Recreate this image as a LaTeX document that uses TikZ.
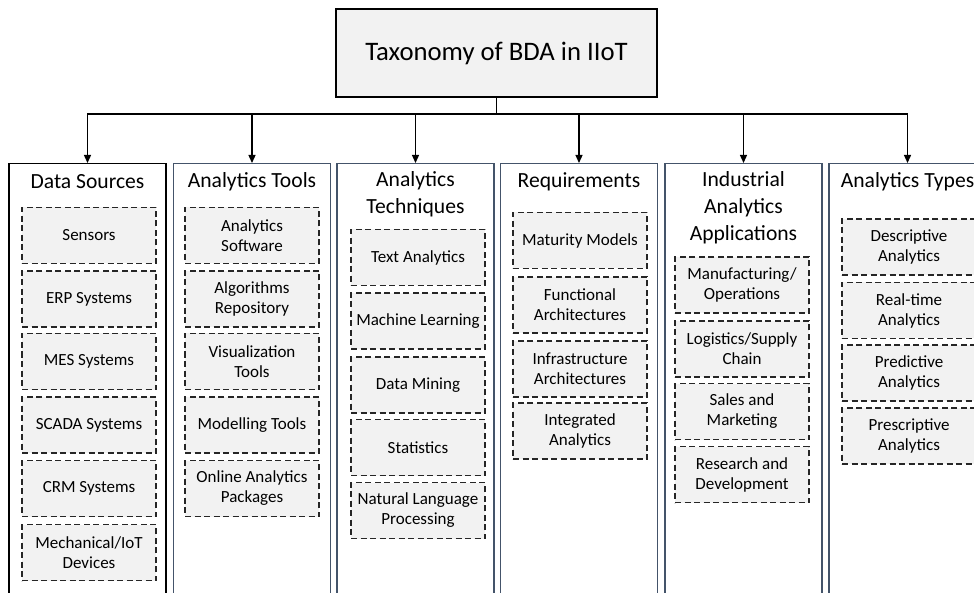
\documentclass[tikz,border=0pt]{standalone}
\usepackage{fontspec}
\setmainfont{Carlito}
\usetikzlibrary{arrows.meta}
\definecolor{boxgray}{HTML}{F2F2F2}
\definecolor{colborder}{HTML}{44546A}

\begin{document}
\begin{tikzpicture}
    [
        x=1pt, y=-1pt,
        rootbox/.style = {shape=rectangle, draw=black, line width=1.5pt, fill=boxgray,
            minimum width=321pt, minimum height=88pt,
            font=\fontsize{26.7}{32}\selectfont},
        colbox/.style = {shape=rectangle, draw=colborder, line width=1.5pt, fill=white,
            anchor=north, minimum width=157pt, minimum height=450pt},
        coltitle/.style = {align=center, inner sep=0pt,
            font=\fontsize{21.6}{27}\selectfont},
        leaf/.style = {shape=rectangle, draw=black!85, dash pattern=on 6pt off 3.5pt,
            line width=1.2pt, fill=boxgray, align=center,
            minimum width=134pt, minimum height=56pt,
            font=\fontsize{17}{20}\selectfont},
        feed/.style = {line width=1.3pt, -{Triangle[length=8pt,width=7pt]}}
    ]
    \useasboundingbox (0,0) rectangle (974,593);
    \clip (0,0) rectangle (974,593);

    \node[rootbox] (root) at (496.5,53) {Taxonomy of BDA in IIoT};
    \coordinate (bus) at (496.5,114);

    % columns
    \node[colbox, draw=black] (sources) at (87.5,163) {};
    \node[colbox] (tools) at (252,163) {};
    \node[colbox] (techniques) at (415.5,163) {};
    \node[colbox] (requirements) at (579,163) {};
    \node[colbox] (applications) at (743.5,163) {};
    \node[colbox] (types) at (907.5,163) {};

    \draw[line width=1.3pt] (root.south) -- (bus);
    \foreach \col in {sources,tools,techniques,requirements,applications,types}
        \draw[feed] (bus) -| (\col.north);

    % column titles
    \node[coltitle] (sourcesT) at (87.5,182) {Data Sources};
    \node[coltitle] (toolsT) at (252,182) {Analytics Tools};
    \node[coltitle] (techniquesT) at (415.5,194.5) {Analytics\\ Techniques};
    \node[coltitle] (requirementsT) at (579,182) {Requirements};
    \node[coltitle] (applicationsT) at (743.5,208) {Industrial\\ Analytics\\ Applications};
    \node[coltitle] (typesT) at (907.5,182) {Analytics Types};

    % data sources
    \node[leaf] (sensors) at (89,235.5) {Sensors};
    \node[leaf] (erp) at (89,299) {ERP Systems};
    \node[leaf] (mes) at (89,361.5) {MES Systems};
    \node[leaf] (scada) at (89,425) {SCADA Systems};
    \node[leaf] (crm) at (89,488.5) {CRM Systems};
    \node[leaf] (iot) at (89,552.5) {Mechanical/IoT\\ Devices};

    % analytics tools
    \node[leaf] (software) at (252,235.5) {Analytics\\ Software};
    \node[leaf] (algorithms) at (252,299) {Algorithms\\ Repository};
    \node[leaf] (visual) at (252,361.5) {Visualization\\ Tools};
    \node[leaf] (modelling) at (252,425) {Modelling Tools};
    \node[leaf] (online) at (252,488.5) {Online Analytics\\ Packages};

    % analytics techniques
    \node[leaf] (text) at (418,257.5) {Text Analytics};
    \node[leaf] (ml) at (418,321) {Machine Learning};
    \node[leaf] (mining) at (418,385) {Data Mining};
    \node[leaf] (stats) at (418,447.5) {Statistics};
    \node[leaf] (nlp) at (418,510.5) {Natural Language\\ Processing};

    % requirements
    \node[leaf] (maturity) at (580,240.5) {Maturity Models};
    \node[leaf] (functional) at (580,305) {Functional\\ Architectures};
    \node[leaf] (infra) at (580,369) {Infrastructure\\ Architectures};
    \node[leaf] (integrated) at (580,431) {Integrated\\ Analytics};

    % industrial analytics applications
    \node[leaf] (manufacturing) at (742,285) {Manufacturing/\\ Operations};
    \node[leaf] (logistics) at (742,349) {Logistics/Supply\\ Chain};
    \node[leaf] (sales) at (742,411.5) {Sales and\\ Marketing};
    \node[leaf] (research) at (742,474.5) {Research and\\ Development};

    % analytics types
    \node[leaf] (descriptive) at (909,247) {Descriptive\\ Analytics};
    \node[leaf] (realtime) at (909,310.5) {Real-time\\ Analytics};
    \node[leaf] (predictive) at (909,373) {Predictive\\ Analytics};
    \node[leaf] (prescriptive) at (909,436) {Prescriptive\\ Analytics};
\end{tikzpicture}
\end{document}
